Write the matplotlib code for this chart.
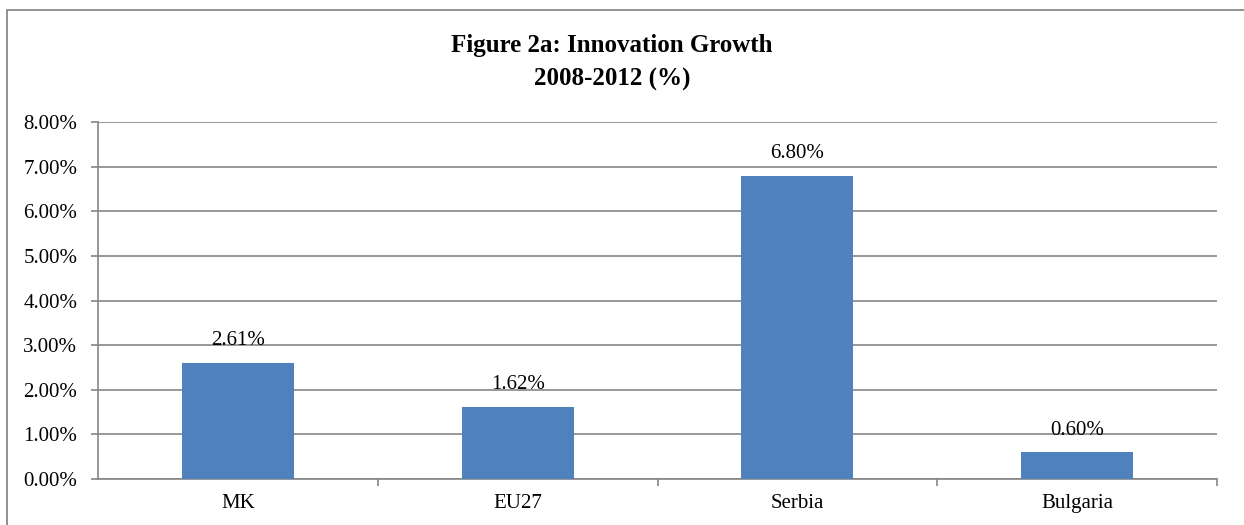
import matplotlib.pyplot as plt
from matplotlib.lines import Line2D
from matplotlib.ticker import FuncFormatter, MultipleLocator

countries = ['MK', 'EU27', 'Serbia', 'Bulgaria']
growth = [2.61, 1.62, 6.80, 0.60]
value_labels = ['2.61%', '1.62%', '6.80%', '0.60%']

plt.rcParams['font.family'] = ['Liberation Serif', 'DejaVu Serif']

fig = plt.figure(figsize=(12.44, 5.25), dpi=100)
ax = fig.add_axes([0.0788, 0.0876, 0.8995, 0.680])

# outer chart frame (only left and top edges fall inside the picture)
fx, fy = 7 / 1244, 1 - 10 / 525
fig.lines.append(Line2D([fx, fx, 1.0], [0.0, fy, fy], transform=fig.transFigure,
                        color='#888888', linewidth=1.3))

x = range(len(countries))
ax.bar(x, growth, width=0.4, color='#4F81BD', zorder=3)

for i, (v, lab) in enumerate(zip(growth, value_labels)):
    ax.annotate(lab, (i, v), xytext=(0, 9), textcoords='offset points',
                ha='center', va='bottom', fontsize=15, zorder=4)

ax.set_xlim(-0.5, len(countries) - 0.5)
ax.set_ylim(0, 8)
ax.yaxis.set_major_locator(MultipleLocator(1))
ax.yaxis.set_major_formatter(FuncFormatter(lambda v, p: '%.2f%%' % v))
ax.grid(True, axis='y', color='#868686', linewidth=1.2, zorder=0)

ax.set_xticks(x)
ax.set_xticklabels(countries)
ax.set_xticks([i + 0.5 for i in x], minor=True)
ax.tick_params(axis='x', which='major', length=0, labelsize=15, pad=11)
ax.tick_params(axis='x', which='minor', length=5, color='#868686', width=1.2)
ax.tick_params(axis='y', length=5, color='#868686', width=1.2, labelsize=15, pad=10)

for s in ['top', 'right']:
    ax.spines[s].set_visible(False)
for s in ['left', 'bottom']:
    ax.spines[s].set_color('#868686')
    ax.spines[s].set_linewidth(1.2)

fig.text(0.492, 0.914, 'Figure 2a: Innovation Growth', ha='center', va='center',
         fontsize=18, fontweight='bold')
fig.text(0.492, 0.848, '2008-2012 (%)', ha='center', va='center',
         fontsize=18, fontweight='bold')

fig.savefig('out.png', dpi=100)
